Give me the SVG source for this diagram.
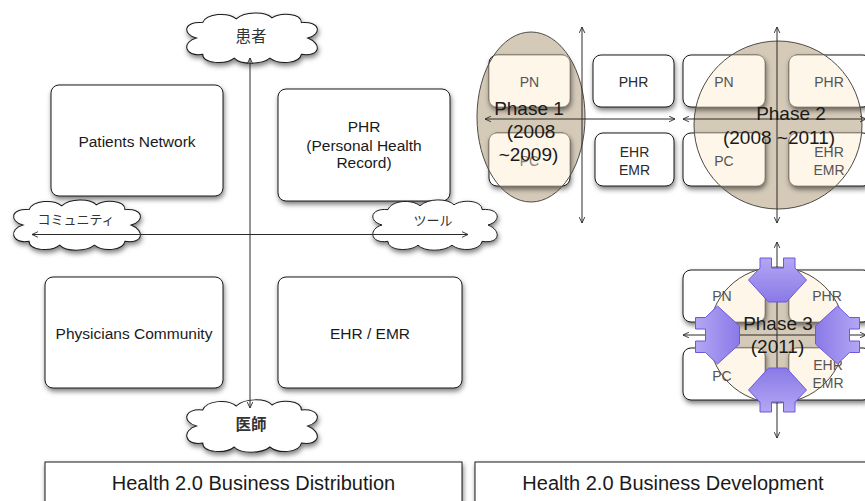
<svg xmlns="http://www.w3.org/2000/svg" width="865" height="501" viewBox="0 0 865 501">
<defs>
<style>
.box{fill:#fff;stroke:#1a1a1a;stroke-width:1;filter:url(#sh)}
.cream{fill:#fdf6e9;stroke:#a99e8c;stroke-width:1}
.t{font-family:"Liberation Sans",Arial,sans-serif;fill:#1a1a1a;text-anchor:middle}
.lbl{font-size:15.5px}
.sm{font-size:14px;fill:#2a2a2a}
.smp{font-size:14px;fill:#555}
.ph{font-size:19px;fill:#1a1a1a}
.big{font-size:20px;fill:#1a1a1a}
.jp{font-family:"Noto Sans CJK JP",sans-serif;text-anchor:middle;fill:#333}
.tan{fill:#d5cab8}
.ring{fill:none;stroke:#4d4a45;stroke-width:1}
.ax{stroke:#2a2a2a;stroke-width:1;fill:none;marker-start:url(#ah);marker-end:url(#ah)}
.cloud{fill:#fff;stroke:#1a1a1a;stroke-width:1;filter:url(#sh)}
.pa{fill:url(#pg);stroke:#6b58e0;stroke-width:1}
</style>
<filter id="sh" x="-20%" y="-20%" width="140%" height="160%">
<feDropShadow dx="1" dy="3" stdDeviation="2.5" flood-color="#000" flood-opacity="0.5"/>
</filter>
<marker id="ah" viewBox="0 0 10 10" refX="9.5" refY="5" markerWidth="7" markerHeight="7" orient="auto-start-reverse" markerUnits="userSpaceOnUse">
<path d="M1,1 L9.5,5 L1,9" fill="none" stroke="#2a2a2a" stroke-width="1.3"/>
</marker>
<linearGradient id="pg" x1="0" y1="0" x2="0" y2="1">
<stop offset="0" stop-color="#b3a7f4"/>
<stop offset="1" stop-color="#8a79e7"/>
</linearGradient>
<path id="cl" d="M-52,0 C-66,-4 -64,-18 -46,-16 C-42,-26 -22,-27 -14,-20 C-6,-28 14,-28 20,-21 C28,-27 48,-26 48,-16 C66,-18 68,-4 54,0 C68,6 66,20 48,17 C46,27 26,28 18,21 C10,28 -10,28 -16,21 C-24,28 -46,27 -46,17 C-64,20 -66,4 -52,0 Z"/>
<path id="pa" d="M-17.5,-77 L-6,-77 L-6,-67 L6,-67 L6,-77 L17.5,-77 L17.5,-67 L29,-55 L9,-33 L-9,-33 L-29,-55 L-17.5,-67 Z"/>
<clipPath id="cp1"><ellipse cx="531" cy="117" rx="54" ry="85"/></clipPath>
<clipPath id="cp2"><circle cx="778" cy="125" r="84"/></clipPath>
<clipPath id="cp3"><circle cx="777" cy="335" r="68"/></clipPath>
</defs>

<rect width="865" height="501" fill="#fff"/>

<!-- Left panel nodes -->
<g id="patients-network">
<rect class="box" x="51" y="85" width="172" height="111" rx="8"/>
<text class="t lbl" x="137" y="147">Patients Network</text>
</g>
<g id="phr">
<rect class="box" x="278" y="89" width="172" height="112" rx="8"/>
<text class="t lbl" x="364" y="132">PHR</text>
<text class="t lbl" x="364" y="150.5">(Personal Health</text>
<text class="t lbl" x="364" y="167.5">Record)</text>
</g>
<g id="physicians-community">
<rect class="box" x="45" y="277" width="178" height="111" rx="8"/>
<text class="t lbl" x="134" y="339">Physicians Community</text>
</g>
<g id="ehr-emr">
<rect class="box" x="278" y="277" width="184" height="111" rx="8"/>
<text class="t lbl" x="370" y="339">EHR / EMR</text>
</g>

<g id="cloud-patients">
<use href="#cl" class="cloud" transform="translate(251,38) scale(1.05,0.96)"/>
<text class="jp" x="251" y="42" font-size="15.5">患者</text>
</g>
<g id="cloud-doctors">
<use href="#cl" class="cloud" transform="translate(251,426) scale(1.05,1)"/>
<text class="jp" x="251" y="430" font-size="15.5" font-weight="bold" fill="#111">医師</text>
</g>
<g id="cloud-community">
<use href="#cl" class="cloud" transform="translate(76,225) scale(1.02,0.96)"/>
<text class="jp" x="76" y="224" font-size="13" fill="#555">コミュニティ</text>
</g>
<g id="cloud-tool">
<use href="#cl" class="cloud" transform="translate(434,225) scale(1,0.96)"/>
<text class="jp" x="433" y="225" font-size="13" fill="#555">ツール</text>
</g>

<!-- Bottom title boxes -->
<g id="title-distribution">
<rect class="box" x="45" y="462" width="417" height="60"/>
<text class="t big" x="253.5" y="490">Health 2.0 Business Distribution</text>
</g>
<g id="title-development">
<rect class="box" x="475" y="462" width="400" height="60"/>
<text class="t big" x="673" y="490">Health 2.0 Business Development</text>
</g>

<!-- Phase 1 -->
<g id="phase1">
<ellipse class="tan" cx="531" cy="117" rx="54" ry="85"/>
<g id="p1-pn">
<rect class="box" x="489" y="55" width="81" height="52" rx="8"/>
<rect class="cream" x="489" y="55" width="81" height="52" rx="8" clip-path="url(#cp1)"/>
<text class="t smp" x="529.5" y="87">PN</text>
</g>
<g id="p1-pc">
<rect class="box" x="489" y="133" width="81" height="53" rx="8"/>
<rect class="cream" x="489" y="133" width="81" height="53" rx="8" clip-path="url(#cp1)"/>
<text class="t smp" x="529.5" y="166" fill="#888" style="fill:#8a8378">PC</text>
</g>
<ellipse class="ring" cx="531" cy="117" rx="54" ry="85"/>
</g>
<g id="p1-phr">
<rect class="box" x="593" y="55" width="81" height="52" rx="8"/>
<text class="t sm" x="633.5" y="87">PHR</text>
</g>
<g id="p1-ehr">
<rect class="box" x="595" y="133" width="79" height="53" rx="8"/>
<text class="t sm" x="634.5" y="157">EHR</text>
<text class="t sm" x="634.5" y="175">EMR</text>
</g>

<!-- Phase 2 -->
<g id="phase2">
<circle class="tan" cx="778" cy="125" r="84"/>
<g id="p2-pn">
<rect class="box" x="683" y="55" width="82" height="52" rx="8"/>
<rect class="cream" x="683" y="55" width="82" height="52" rx="8" clip-path="url(#cp2)"/>
<text class="t smp" x="724" y="87">PN</text>
</g>
<g id="p2-phr">
<rect class="box" x="789" y="55" width="82" height="52" rx="8"/>
<rect class="cream" x="789" y="55" width="82" height="52" rx="8" clip-path="url(#cp2)"/>
<text class="t smp" x="829" y="87">PHR</text>
</g>
<g id="p2-pc">
<rect class="box" x="683" y="133" width="82" height="53" rx="8"/>
<rect class="cream" x="683" y="133" width="82" height="53" rx="8" clip-path="url(#cp2)"/>
<text class="t smp" x="724" y="166">PC</text>
</g>
<g id="p2-ehr">
<rect class="box" x="789" y="133" width="82" height="53" rx="8"/>
<rect class="cream" x="789" y="133" width="82" height="53" rx="8" clip-path="url(#cp2)"/>
<text class="t smp" x="829" y="157">EHR</text>
<text class="t smp" x="829" y="175">EMR</text>
</g>
<circle class="ring" cx="778" cy="125" r="84"/>
</g>

<!-- Phase 3 -->
<g id="phase3">
<circle class="tan" cx="777" cy="335" r="68"/>
<g id="p3-pn">
<rect class="box" x="683" y="270" width="82" height="52" rx="8"/>
<rect class="cream" x="683" y="270" width="82" height="52" rx="8" clip-path="url(#cp3)"/>
<text class="t smp" x="722" y="301">PN</text>
</g>
<g id="p3-phr">
<rect class="box" x="789" y="270" width="82" height="52" rx="8"/>
<rect class="cream" x="789" y="270" width="82" height="52" rx="8" clip-path="url(#cp3)"/>
<text class="t smp" x="827" y="301">PHR</text>
</g>
<g id="p3-pc">
<rect class="box" x="683" y="348" width="82" height="52" rx="8"/>
<rect class="cream" x="683" y="348" width="82" height="52" rx="8" clip-path="url(#cp3)"/>
<text class="t smp" x="722" y="381">PC</text>
</g>
<g id="p3-ehr">
<rect class="box" x="789" y="348" width="82" height="52" rx="8"/>
<rect class="cream" x="789" y="348" width="82" height="52" rx="8" clip-path="url(#cp3)"/>
<text class="t smp" x="828" y="370">EHR</text>
<text class="t smp" x="828" y="388">EMR</text>
</g>
<circle class="ring" cx="777" cy="335" r="68"/>
</g>

<!-- Connectors -->
<g id="connectors">
<line class="ax" x1="250" y1="58" x2="250" y2="408"/>
<line class="ax" x1="32" y1="234.5" x2="468" y2="234.5"/>
<line class="ax" x1="582" y1="27" x2="582" y2="223"/>
<line class="ax" x1="485" y1="119" x2="675" y2="119"/>
<line class="ax" x1="777" y1="27" x2="777" y2="223"/>
<line class="ax" x1="683" y1="119" x2="866" y2="119"/>
<line class="ax" x1="777" y1="242" x2="777" y2="438"/>
<line class="ax" x1="683" y1="335" x2="866" y2="335"/>
</g>

<!-- Phase 3 expansion arrows -->
<g id="phase3-arrows">
<use href="#pa" class="pa" transform="translate(777.5,335)"/>
<use href="#pa" class="pa" transform="translate(777.5,335) rotate(90) translate(0,-5)"/>
<use href="#pa" class="pa" transform="translate(777.5,335) rotate(180)"/>
<use href="#pa" class="pa" transform="translate(777.5,335) rotate(270) translate(0,-5)"/>
</g>

<!-- Phase labels -->
<g id="phase-labels">
<text class="t ph" x="529" y="115">Phase 1</text>
<text class="t ph" x="531" y="138">(2008</text>
<text class="t ph" x="528.5" y="161">~2009)</text>
<text class="t ph" x="791" y="120">Phase 2</text>
<text class="t ph" x="779" y="144">(2008 ~2011)</text>
<text class="t ph" x="778" y="330">Phase 3</text>
<text class="t ph" x="777.5" y="353">(2011)</text>
</g>
</svg>
